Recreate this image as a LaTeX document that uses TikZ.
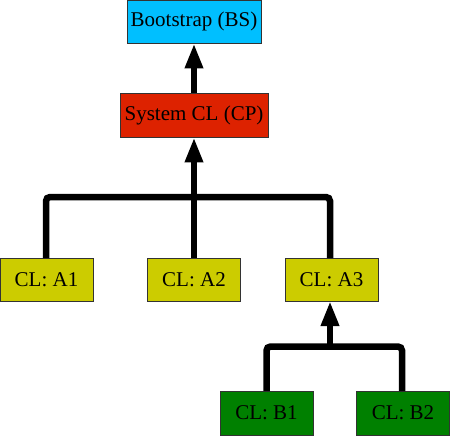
\documentclass[tikz,border=0pt]{standalone}
\usepackage{fontspec}
\setmainfont{Liberation Serif}
\usetikzlibrary{arrows.meta}
\definecolor{bscol}{RGB}{0,191,255}
\definecolor{cpcol}{RGB}{221,34,0}
\definecolor{acol}{RGB}{204,204,0}
\definecolor{bcol}{RGB}{0,128,0}
\tikzset{
  box/.style={draw=black!80, line width=0.8pt, inner sep=0pt, font=\fontsize{21}{24}\selectfont, text=black},
  link/.style={line width=6.5pt, rounded corners=4pt},
  uparrow/.style={link, -{Triangle[length=25pt,width=17pt]}}
}
\begin{document}
\begin{tikzpicture}[x=1pt,y=1pt]
\useasboundingbox (0,0) rectangle (450,-436);
\node[box, fill=bscol, minimum width=134pt, minimum height=43pt] (bs) at (194,-21.5) {Bootstrap (BS)};
\node[box, fill=cpcol, minimum width=148pt, minimum height=44pt] (cp) at (194,-115) {System CL (CP)};
\node[box, fill=acol, minimum width=93pt, minimum height=43pt] (a1) at (46.5,-279.5) {CL: A1};
\node[box, fill=acol, minimum width=93pt, minimum height=43pt] (a2) at (194,-279.5) {CL: A2};
\node[box, fill=acol, minimum width=93pt, minimum height=43pt] (a3) at (331.5,-279.5) {CL: A3};
\node[box, fill=bcol, minimum width=93pt, minimum height=44pt] (b1) at (266.5,-413) {CL: B1};
\node[box, fill=bcol, minimum width=93pt, minimum height=44pt] (b2) at (403,-413) {CL: B2};
\coordinate (bar) at (0,-197);
\coordinate (bar2) at (0,-346.5);
\coordinate (a1t) at (46,-258);
\coordinate (a3t) at (330,-258);
\coordinate (b1t) at (266.5,-391);
\coordinate (b2t) at (402,-391);
\coordinate (a3b) at (330,-301);
\draw[link] (a1t) |- (bar -| a3t) -- (a3t);
\draw[uparrow] (a2.north) -- (cp.south);
\draw[uparrow] (cp.north) -- (bs.south);
\draw[link] (b1t) |- (bar2 -| b2t) -- (b2t);
\draw[uparrow] (bar2 -| a3b) -- (a3b);
\end{tikzpicture}
\end{document}
